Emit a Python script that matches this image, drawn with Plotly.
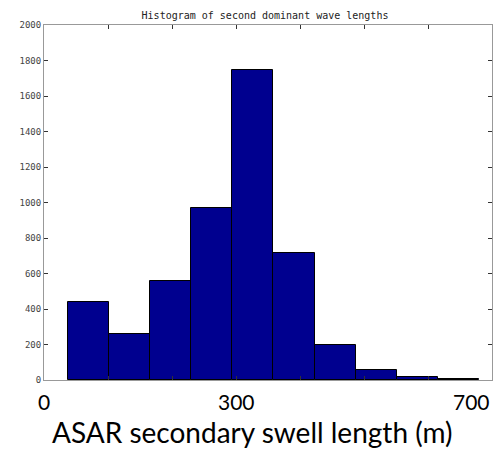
import plotly.graph_objects as go

# Data
counts = [438, 257, 558, 970, 1745, 717, 200, 55, 15, 4]
bin_edges = [37.5, 101.7, 165.9, 230.1, 294.3, 358.5, 422.7, 486.9, 551.1, 615.3, 679.5]
x_tick_vals = [0, 100, 200, 300, 400, 500, 600, 700]
x_label_vals = [0, 300, 700]
x_label_text = ["0", "300", "700"]
y_tick_vals = [0, 200, 400, 600, 800, 1000, 1200, 1400, 1600, 1800, 2000]

centers = [(a + b) / 2 for a, b in zip(bin_edges[:-1], bin_edges[1:])]
widths = [b - a for a, b in zip(bin_edges[:-1], bin_edges[1:])]

fig = go.Figure()
fig.add_trace(go.Bar(
    x=centers, y=counts, width=widths,
    marker=dict(color="rgb(0,0,143)", line=dict(color="black", width=1)),
    hoverinfo="skip",
))

fig.update_layout(
    width=495, height=450,
    margin=dict(l=44, r=3, t=25, b=70),
    paper_bgcolor="white", plot_bgcolor="white",
    showlegend=False,
    bargap=0,
    title=dict(text="Histogram of second dominant wave lengths",
               font=dict(family="DejaVu Sans Mono", size=10, color="#222"),
               x=265 / 495, xanchor="center", y=1 - 15 / 450, yanchor="middle"),
)

fig.update_xaxes(
    range=[0, 700], tickvals=x_tick_vals, ticktext=[""] * len(x_tick_vals),
    ticks="inside", ticklen=4, tickcolor="#333", tickwidth=1,
    showline=True, linecolor="#999", linewidth=1, mirror="ticks",
    showgrid=False, zeroline=False, fixedrange=True,
)
fig.update_yaxes(
    range=[0, 2000], tickvals=y_tick_vals,
    ticks="inside", ticklen=4, tickcolor="#333", tickwidth=1,
    showline=True, linecolor="#999", linewidth=1, mirror="ticks",
    showgrid=False, zeroline=False, fixedrange=True,
    tickfont=dict(family="DejaVu Sans Mono", size=9, color="#444"),
)

for v, t in zip(x_label_vals, x_label_text):
    fig.add_annotation(
        x=v, xref="x", y=0, yref="paper", yshift=-21,
        text=t, showarrow=False,
        xanchor="right" if v == x_label_vals[-1] else "center", yanchor="middle",
        font=dict(family="Lato", size=21, color="black"),
    )

fig.add_annotation(
    x=(252 - 44) / 448, xref="paper", y=0, yref="paper", yshift=-52,
    text="ASAR secondary swell length (m)", showarrow=False,
    xanchor="center", yanchor="middle",
    font=dict(family="Lato", size=28, color="black"),
)

fig.write_html("out.html")
